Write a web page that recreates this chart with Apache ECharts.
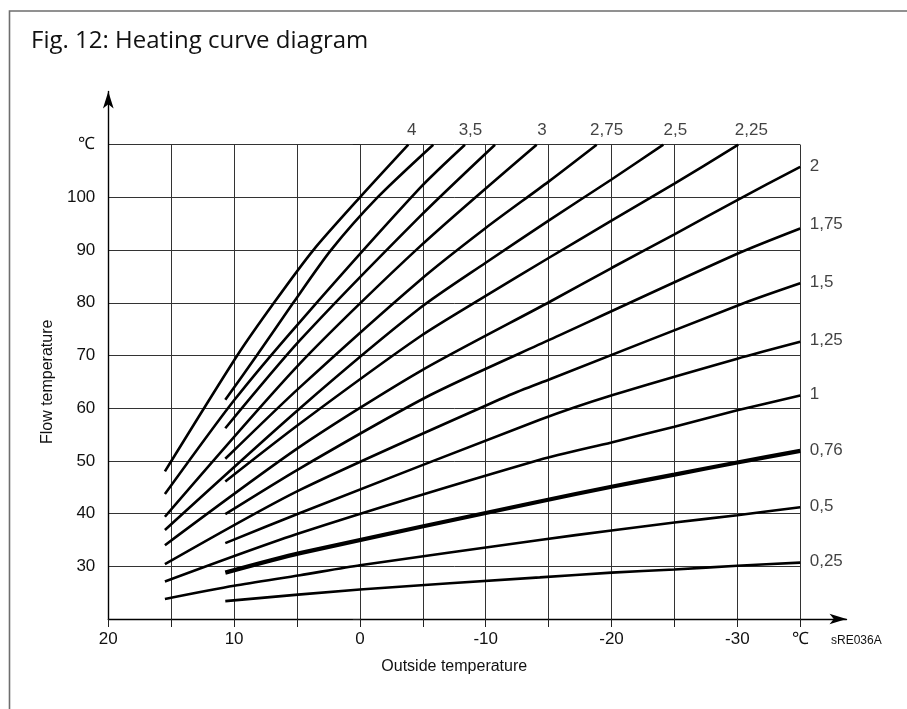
<!DOCTYPE html>
<html>
<head>
<meta charset="utf-8">
<script src="https://cdn.jsdelivr.net/npm/echarts@6/dist/echarts.min.js"></script>
<style>html,body{margin:0;padding:0;background:#fff}#c{width:907px;height:709px}</style>
</head>
<body>
<div id="c"></div>
<script>
// ---- data: [outside temperature (°C), flow temperature (°C)] ----
const curveNames = ['4','3,75','3,5','3,25','3','2,75','2,5','2,25','2','1,75','1,5','1,25','1','0,76','0,5','0,25'];
const curveLabelled = [true,false,true,false,true,true,true,true,true,true,true,true,true,true,true,true];
const c4   = [[15.5,48],[9.75,70],[6.83,80],[3.7,90],[0,100],[-3.85,110]];
const c375 = [[10.7,61.6],[8.2,70],[5.3,80],[2.3,90],[-1.4,100],[-5.83,110]];
const c35  = [[15.5,43.7],[10,61.5],[4.76,76.4],[-4.78,101.8],[-8.35,110]];
const c325 = [[10.7,56.2],[4.76,72.9],[-4.78,96.4],[-10.74,110]];
const c3   = [[15.5,39.4],[4.76,68.5],[-4.78,90.7],[-14.05,110]];
const c275 = [[10.7,50.4],[4.76,64.0],[-4.78,84.3],[-10,94.2],[-15,103.0],[-18.82,110]];
const c25  = [[15.5,36.9],[4.76,60.0],[-4.78,79.0],[-10,87.6],[-15,95.6],[-20,103.4],[-24.12,110]];
const c225 = [[10.7,46.1],[4.76,57.1],[-4.78,73.6],[-10,81.3],[-15,88.5],[-20,95.6],[-25,102.6],[-30.08,110]];
const c2   = [[15.5,34.0],[4.76,52.7],[-4.78,67.0],[-15.1,80.2],[-20,86.6],[-25,93.0],[-30,99.5],[-35,105.8]];
const c175 = [[10.7,39.9],[4.76,48.6],[-5.6,62.5],[-15.1,73.0],[-30,89.3],[-35,94.1]];
const c15  = [[15.5,30.4],[4.76,44.5],[-11.9,62.5],[-15.1,65.5],[-30.6,80],[-35,83.7]];
const c125 = [[10.7,34.4],[4.76,40.1],[-14.3,57.8],[-20.1,62.5],[-30,69.4],[-35,72.6]];
const c1   = [[15.5,27.1],[4.76,36.3],[-14.3,50.2],[-20,53.5],[-25,56.5],[-30,59.6],[-35,62.4]];
const c076 = [[10.7,28.8],[4.76,32.5],[-14.3,42.3],[-20,45.1],[-25,47.4],[-30,49.7],[-35,51.9]];
const c05  = [[15.5,23.8],[10,26.3],[4.76,28.3],[0,30.2],[-14.3,35.0],[-20,36.8],[-25,38.3],[-30,39.7],[-35,41.2]];
const c025 = [[10.7,23.4],[0,25.6],[-14.3,27.9],[-20,28.8],[-25,29.4],[-30,30.1],[-35,30.7]];
const curves = [c4,c375,c35,c325,c3,c275,c25,c225,c2,c175,c15,c125,c1,c076,c05,c025];

const xLabelValues = [20,10,0,-10,-20,-30,-35];
const xLabelTexts  = ['20','10','0','-10','-20','-30','℃'];
const yLabelValues = [30,40,50,60,70,80,90,100,110];
const yLabelTexts  = ['30','40','50','60','70','80','90','100','℃'];

// ---- styling (not data) ----
const FONT = '"Liberation Sans", Arial, sans-serif';
const topLabelOffsetX = {'4':3.5,'3,5':5.5,'3':5.3,'2,75':10,'2,5':12,'2,25':13};
const rightLabelOffsetY = {'1,75':-4};

const series = [];
curves.forEach((pts, i) => {
  const thick = curveNames[i] === '0,76';
  series.push({
    type: 'line', xAxisIndex: 0, yAxisIndex: 0,
    data: pts, showSymbol: false, symbol: 'none',
    smooth: 0.25,
    lineStyle: { color: '#000', width: thick ? 4.2 : 2.6, cap: 'butt' },
    silent: true, animation: false, z: 5
  });
});
// end labels
const labelData = [];
curves.forEach((pts, i) => {
  if (!curveLabelled[i]) return;
  const last = pts[pts.length - 1];
  const name = curveNames[i];
  const atTop = last[1] >= 110;
  labelData.push({
    value: last, name: name,
    label: atTop
      ? { show: true, position: 'top', distance: 5, offset: [topLabelOffsetX[name] || 0, 0] }
      : { show: true, position: 'right', distance: 9, offset: [0, rightLabelOffsetY[name] || -1] }
  });
});
series.push({
  type: 'scatter', xAxisIndex: 0, yAxisIndex: 0, data: labelData,
  symbolSize: 1, itemStyle: { color: 'rgba(0,0,0,0)' }, silent: true, animation: false,
  label: { formatter: p => p.name, fontFamily: FONT, fontSize: 17, color: '#111' }, z: 6
});

const xMap = {}; xLabelValues.forEach((v, i) => xMap[v] = xLabelTexts[i]);
const yMap = {}; yLabelValues.forEach((v, i) => yMap[v] = yLabelTexts[i]);

const chart = echarts.init(document.getElementById('c'), null, { renderer: 'canvas' });
chart.setOption({
  backgroundColor: '#fff',
  animation: false,
  title: {
    text: 'Fig. 12: Heating curve diagram', left: 31, top: 29, padding: 0,
    textStyle: { fontFamily: '"Open Sans", sans-serif', fontSize: 24, fontWeight: 'normal', color: '#111' }
  },
  grid: [
    { left: 108.3, right: 106.8, top: 144.7, bottom: 90 },
    { left: 108.3, right: 60.5, top: 91.5, bottom: 90 }
  ],
  xAxis: [
    {
      type: 'value', gridIndex: 0, inverse: true, min: -35, max: 20, interval: 5,
      name: 'Outside temperature', nameLocation: 'middle', nameGap: 40,
      nameTextStyle: { fontFamily: FONT, fontSize: 16, color: '#111' },
      axisLine: { show: false },
      axisTick: { show: true, inside: false, length: 8, lineStyle: { color: '#222', width: 1 } },
      axisLabel: { margin: 12, fontFamily: FONT, fontSize: 17, color: '#111', showMinLabel: true, showMaxLabel: true,
        formatter: v => (xMap[v] !== undefined ? xMap[v] : '') },
      splitLine: { show: true, lineStyle: { color: '#333', width: 1 } }
    },
    {
      type: 'value', gridIndex: 1, min: 0, max: 1,
      axisLine: { show: true, onZero: false, symbol: ['none', 'arrow'], symbolSize: [8, 17], lineStyle: { color: '#000', width: 1.4 } },
      axisTick: { show: false }, axisLabel: { show: false }, splitLine: { show: false }
    }
  ],
  yAxis: [
    {
      type: 'value', gridIndex: 0, min: 20, max: 110, interval: 10,
      name: 'Flow temperature', nameLocation: 'middle', nameGap: 52, nameRotate: 90,
      nameTextStyle: { fontFamily: FONT, fontSize: 16, color: '#111' },
      axisLine: { show: false },
      axisTick: { show: true, inside: false, length: 7, lineStyle: { color: '#222', width: 1 } },
      axisLabel: { margin: 13, fontFamily: FONT, fontSize: 17, color: '#111', showMinLabel: true, showMaxLabel: true,
        formatter: v => (yMap[v] !== undefined ? yMap[v] : '') },
      splitLine: { show: true, lineStyle: { color: '#333', width: 1 } }
    },
    {
      type: 'value', gridIndex: 1, min: 0, max: 1,
      axisLine: { show: true, onZero: false, symbol: ['none', 'arrow'], symbolSize: [8, 17], lineStyle: { color: '#000', width: 1.4 } },
      axisTick: { show: false }, axisLabel: { show: false }, splitLine: { show: false }
    }
  ],
  graphic: [
    { type: 'rect', silent: true, z: 100,
      shape: { x: 9.5, y: 11, width: 1200, height: 1200 },
      style: { fill: 'none', stroke: '#6e6e6e', lineWidth: 1.6 } },
    { type: 'text', silent: true, z: 100, x: 831, y: 641,
      style: { text: 'sRE036A', font: '12px "Liberation Sans", Arial, sans-serif', fill: '#111', verticalAlign: 'middle', align: 'left' } }
  ],
  series: series
});
</script>
</body>
</html>
